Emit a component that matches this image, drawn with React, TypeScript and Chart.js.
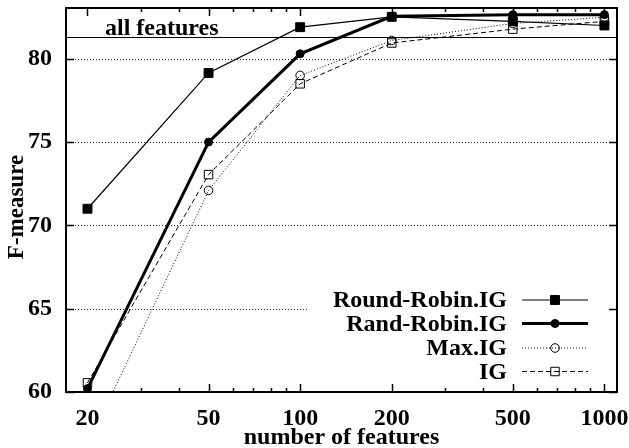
import React, { useEffect, useRef } from 'react';
import { Chart, registerables } from 'chart.js';

Chart.register(...registerables);

const featureCounts = [20, 50, 100, 200, 500, 1000];
const roundRobinIG = [71.0, 79.15, 81.9, 82.52, 82.25, 82.0];
const randRobinIG = [60.2, 75.0, 80.3, 82.55, 82.65, 82.65];
const maxIG = [56.8, 72.1, 79.0, 81.1, 82.12, 82.5];
const igValues = [60.55, 73.05, 78.5, 80.95, 81.78, 82.25];
const allFeaturesValue = 81.3;
const allFeaturesLabel = 'all features';

const seriesLabels = ['Round-Robin.IG', 'Rand-Robin.IG', 'Max.IG', 'IG'];
const xTickValues = [20, 50, 100, 200, 500, 1000];
const xMinorTickValues = [30, 40, 60, 70, 80, 90, 300, 400, 600, 700, 800, 900];
const yTickValues = [60, 65, 70, 75, 80];
const xTitle = 'number of features';
const yTitle = 'F-measure';

const FONT = 'Liberation Serif';

function pts(values: number[]) {
  return featureCounts.map((x, i) => ({ x, y: values[i] }));
}

function drawMarker(ctx: CanvasRenderingContext2D, ds: any, x: number, y: number) {
  const r = ds.pointRadius;
  ctx.save();
  ctx.setLineDash([]);
  ctx.lineWidth = ds.pointBorderWidth;
  ctx.strokeStyle = ds.pointBorderColor;
  ctx.fillStyle = ds.pointBackgroundColor;
  ctx.beginPath();
  if (ds.pointStyle === 'rect') {
    const s = Math.SQRT1_2 * r;
    ctx.rect(x - s, y - s, 2 * s, 2 * s);
  } else {
    ctx.arc(x, y, r, 0, Math.PI * 2);
  }
  ctx.fill();
  ctx.stroke();
  ctx.restore();
}

const decorPlugin = {
  id: 'decor',
  beforeDatasetsDraw(chart: any) {
    const { ctx, chartArea: a, scales } = chart;
    const y = scales.y;
    ctx.save();
    ctx.strokeStyle = '#333';
    ctx.lineWidth = 1;
    ctx.setLineDash([1, 2]);
    for (const v of yTickValues) {
      if (v === yTickValues[0]) continue;
      const py = Math.round(y.getPixelForValue(v)) + 0.5;
      ctx.beginPath();
      ctx.moveTo(a.left, py);
      ctx.lineTo(a.right, py);
      ctx.stroke();
    }
    ctx.setLineDash([]);
    // legend key background
    ctx.fillStyle = '#fff';
    ctx.fillRect(a.right - 310, a.bottom - 106, 300, 100);
    // all features reference line
    const py = Math.round(y.getPixelForValue(allFeaturesValue)) + 0.5;
    ctx.strokeStyle = '#000';
    ctx.lineWidth = 1;
    ctx.beginPath();
    ctx.moveTo(a.left, py);
    ctx.lineTo(a.right, py);
    ctx.stroke();
    ctx.fillStyle = '#000';
    ctx.font = `bold 24px "${FONT}"`;
    ctx.textAlign = 'left';
    ctx.textBaseline = 'alphabetic';
    ctx.fillText(allFeaturesLabel, a.left + 39, py - 2.5);
    ctx.restore();
  },
  afterDatasetsDraw(chart: any) {
    const { ctx, chartArea: a, scales } = chart;
    const x = scales.x;
    const y = scales.y;
    ctx.save();
    ctx.strokeStyle = '#000';
    ctx.setLineDash([]);
    // frame
    ctx.lineWidth = 2;
    ctx.strokeRect(a.left, a.top, a.right - a.left, a.bottom - a.top);
    // ticks
    ctx.lineWidth = 1.5;
    const tick = (px: number, len: number) => {
      ctx.beginPath();
      ctx.moveTo(px, a.bottom);
      ctx.lineTo(px, a.bottom - len);
      ctx.moveTo(px, a.top);
      ctx.lineTo(px, a.top + len);
      ctx.stroke();
    };
    for (const v of xTickValues) tick(Math.round(x.getPixelForValue(v)) + 0.5, 8);
    for (const v of xMinorTickValues) tick(Math.round(x.getPixelForValue(v)) + 0.5, 4);
    for (const v of yTickValues) {
      const py = Math.round(y.getPixelForValue(v)) + 0.5;
      ctx.beginPath();
      ctx.moveTo(a.left, py);
      ctx.lineTo(a.left + 8, py);
      ctx.moveTo(a.right, py);
      ctx.lineTo(a.right - 8, py);
      ctx.stroke();
    }
    // legend
    const rowsY = [a.bottom - 92, a.bottom - 68.5, a.bottom - 44, a.bottom - 20.5];
    ctx.font = `bold 24px "${FONT}"`;
    ctx.textAlign = 'right';
    ctx.textBaseline = 'middle';
    ctx.fillStyle = '#000';
    chart.data.datasets.forEach((ds: any, i: number) => {
      const ry = rowsY[i];
      ctx.fillText(ds.label, a.right - 110, ry + 1);
      ctx.save();
      ctx.strokeStyle = ds.borderColor;
      ctx.lineWidth = ds.borderWidth;
      ctx.setLineDash(ds.borderDash || []);
      ctx.beginPath();
      ctx.moveTo(a.right - 95, ry);
      ctx.lineTo(a.right - 29, ry);
      ctx.stroke();
      ctx.restore();
      drawMarker(ctx, ds, a.right - 62, ry);
    });
    // y axis title, drawn rotated next to the scale
    ctx.save();
    ctx.font = `bold 23px "${FONT}"`;
    ctx.fillStyle = '#000';
    ctx.textAlign = 'center';
    ctx.textBaseline = 'middle';
    ctx.translate(17, (a.top + a.bottom) / 2 + 7);
    ctx.rotate(-Math.PI / 2);
    ctx.fillText(yTitle, 0, 0);
    ctx.restore();
    ctx.restore();
  },
};

export default function App() {
  const ref = useRef<HTMLCanvasElement | null>(null);
  useEffect(() => {
    if (!ref.current) return;
    Chart.defaults.font.family = FONT;
    Chart.defaults.color = '#000';
    const chart = new Chart(ref.current, {
      type: 'line',
      data: {
        datasets: [
          {
            label: seriesLabels[0],
            data: pts(roundRobinIG),
            borderColor: '#000',
            borderWidth: 1.2,
            pointStyle: 'rect',
            pointRadius: 6.3,
            pointBorderWidth: 1,
            pointBorderColor: '#000',
            pointBackgroundColor: '#000',
            clip: 8,
          } as any,
          {
            label: seriesLabels[1],
            data: pts(randRobinIG),
            borderColor: '#000',
            borderWidth: 3,
            pointStyle: 'circle',
            pointRadius: 4,
            pointBorderWidth: 1,
            pointBorderColor: '#000',
            pointBackgroundColor: '#000',
            clip: 8,
          },
          {
            label: seriesLabels[2],
            data: pts(maxIG),
            borderColor: '#000',
            borderWidth: 1,
            borderDash: [1, 2],
            pointStyle: 'circle',
            pointRadius: 4.3,
            pointBorderWidth: 1,
            pointBorderColor: '#000',
            pointBackgroundColor: 'rgba(0,0,0,0)',
            clip: 0,
          },
          {
            label: seriesLabels[3],
            data: pts(igValues),
            borderColor: '#000',
            borderWidth: 1,
            borderDash: [5, 3],
            pointStyle: 'rect',
            pointRadius: 6,
            pointBorderWidth: 1,
            pointBorderColor: '#000',
            pointBackgroundColor: 'rgba(0,0,0,0)',
            clip: 8,
          },
        ],
      },
      options: {
        responsive: false,
        animation: false,
        devicePixelRatio: 1,
        layout: { padding: { top: 8, right: 12, left: 0, bottom: 0 } },
        plugins: {
          legend: { display: false },
          tooltip: { enabled: false },
        },
        elements: { line: { tension: 0 } },
        scales: {
          x: {
            type: 'logarithmic',
            min: 17,
            max: 1100,
            afterBuildTicks: (s: any) => {
              s.ticks = xTickValues.map((v) => ({ value: v }));
            },
            afterFit: (s: any) => {
              s.height = 56;
              s.paddingLeft = 0;
              s.paddingRight = 0;
              s.paddingTop = 0;
              s.paddingBottom = 0;
            },
            grid: { display: false, drawTicks: false },
            border: { display: false },
            ticks: {
              autoSkip: false,
              maxRotation: 0,
              padding: 12,
              font: { size: 24, weight: 'bold', family: FONT },
              color: '#000',
              callback: (v: any) => String(v),
            },
            title: {
              display: true,
              text: xTitle,
              font: { size: 24, weight: 'bold', family: FONT },
              color: '#000',
              padding: { top: 0, bottom: -4 },
            },
          },
          y: {
            type: 'linear',
            min: 60,
            max: 83.05,
            afterBuildTicks: (s: any) => {
              s.ticks = yTickValues.map((v) => ({ value: v }));
            },
            afterFit: (s: any) => {
              s.width = 66;
              s.paddingLeft = 0;
              s.paddingRight = 0;
              s.paddingTop = 0;
              s.paddingBottom = 0;
            },
            grid: { display: false, drawTicks: false },
            border: { display: false },
            ticks: {
              padding: 14,
              font: { size: 24, weight: 'bold', family: FONT },
              color: '#000',
              callback: (v: any) => String(v),
            },
            title: { display: false, text: yTitle },
          },
        },
      },
      plugins: [decorPlugin],
    } as any);
    return () => chart.destroy();
  }, []);
  return (
    <div style={{ position: 'absolute', left: 0, top: 0, width: 629, height: 448, background: '#fff' }}>
      <canvas ref={ref} width={629} height={448} style={{ display: 'block' }} />
    </div>
  );
}
